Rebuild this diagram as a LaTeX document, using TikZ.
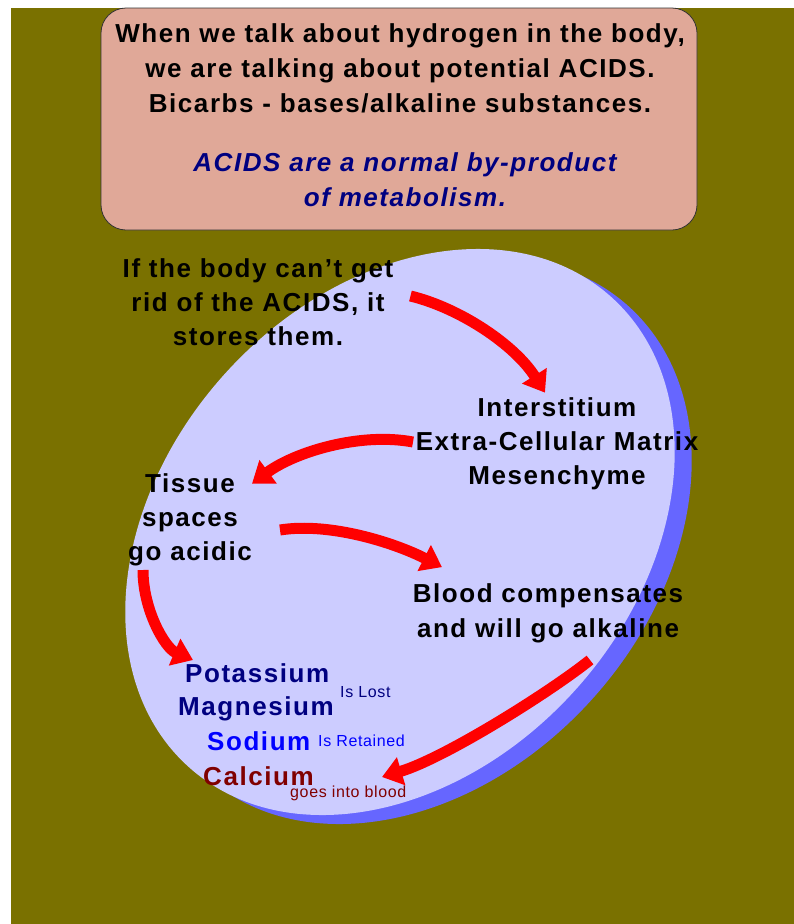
\documentclass[tikz,border=0pt]{standalone}
\usepackage{fontspec}
\setmainfont{Liberation Sans}
\newfontfamily\slidefont[LetterSpace=6]{Liberation Sans}
\newfontfamily\notefont[LetterSpace=4]{Liberation Sans}
\usetikzlibrary{arrows.meta}
\definecolor{slideolive}{HTML}{7A7100}
\definecolor{notepink}{HTML}{E0A898}
\definecolor{cellfill}{HTML}{CCCCFF}
\definecolor{cellshade}{HTML}{6666FF}
\definecolor{navytext}{HTML}{000080}
\definecolor{brighttext}{HTML}{0000FF}
\definecolor{rusttext}{HTML}{800000}

\begin{document}
\begin{tikzpicture}[x=1pt, y=-1pt,
  every node/.style={inner sep=0pt},
  bigtext/.style={font=\slidefont\bfseries\fontsize{26}{35}\selectfont, align=center},
  steptext/.style={font=\slidefont\bfseries\fontsize{26}{34}\selectfont, align=center},
  mineral/.style={font=\slidefont\bfseries\fontsize{26}{30}\selectfont, anchor=base west},
  mineralnote/.style={font=\notefont\fontsize{16}{18}\selectfont, anchor=base west},
  redflow/.style={-{Triangle[length=20pt, width=28pt]}, red, line width=11pt}
]
\useasboundingbox (0,0) rectangle (794,924);
\fill[slideolive] (11,8) rectangle (794,924);

% note box on top
\node[draw=black!80, line width=0.8pt, fill=notepink, rounded corners=25pt,
  minimum width=596pt, minimum height=222pt] (note) at (399,119) {};
\node[bigtext] (hydro) at (400,68)
  {When we talk about hydrogen in the body,\\
   we are talking about potential ACIDS.\\
   Bicarbs - bases/alkaline substances.};
\node[bigtext, font=\slidefont\bfseries\itshape\fontsize{26}{35}\selectfont,
  text=navytext] (byproduct) at (405,180)
  {ACIDS are a normal by-product\\ of metabolism.};

% the cell, with its shadow
\coordinate (cell) at (400,532);
\coordinate (cellshadow) at (417,541);
\fill[cellshade, rotate around={48:(cellshadow)}]
  (cellshadow) ellipse [x radius=316pt, y radius=236pt];
\fill[cellfill, rotate around={48:(cell)}]
  (cell) ellipse [x radius=316pt, y radius=236pt];

% steps
\node[steptext] (store) at (258,302)
  {If the body can’t get\\ rid of the ACIDS, it\\ stores them.};
\node[steptext] (inter) at (557,444)
  {Interstitium\\ Extra-Cellular Matrix\\ Mesenchyme};
\node[steptext] (tissue) at (190,520)
  {Tissue\\ spaces\\ go acidic};
\node[bigtext] (blood) at (548,613)
  {Blood compensates\\ and will go alkaline};

% minerals
\node[mineral, text=navytext] (potassium) at (185,682) {Potassium};
\node[mineral, text=navytext] (magnesium) at (178,715) {Magnesium};
\node[mineral, text=brighttext] (sodium) at (207,750) {Sodium};
\node[mineral, text=rusttext] (calcium) at (203,785) {Calcium};
\node[mineralnote, text=navytext] (lost) at (340,697) {Is Lost};
\node[mineralnote, text=brighttext] (retained) at (318,746) {Is Retained};
\node[mineralnote, text=rusttext] (intoblood) at (290,797) {goes into blood};

% arrow ends
\coordinate (storeout) at ([shift={(17,-6)}]store.east);
\coordinate (interin) at ([shift={(-12,-5)}]inter.north);
\coordinate (interout) at (413,442);
\coordinate (tissuein) at ([shift={(0,10)}]tissue.north east);
\coordinate (tissueout) at (280,530);
\coordinate (bloodin) at ([shift={(-106,-16)}]blood.north);
\coordinate (acidicout) at (143,570);
\coordinate (potassiumin) at ([shift={(8,-22)}]potassium.base west);
\coordinate (bloodout) at (590,660);
\coordinate (calciumin) at ([shift={(179,-8)}]calcium.base west);

% red arrows
\draw[redflow] (storeout) .. controls (460,308) and (515,345) .. (interin);
\draw[redflow] (interout) .. controls (360,432) and (295,452) .. (tissuein);
\draw[redflow] (tissueout) .. controls (330,522) and (395,543) .. (bloodin);
\draw[redflow] (acidicout) .. controls (143,610) and (165,648) .. (potassiumin);
\draw[redflow] (bloodout) .. controls (550,692) and (445,758) .. (calciumin);

\end{tikzpicture}
\end{document}
